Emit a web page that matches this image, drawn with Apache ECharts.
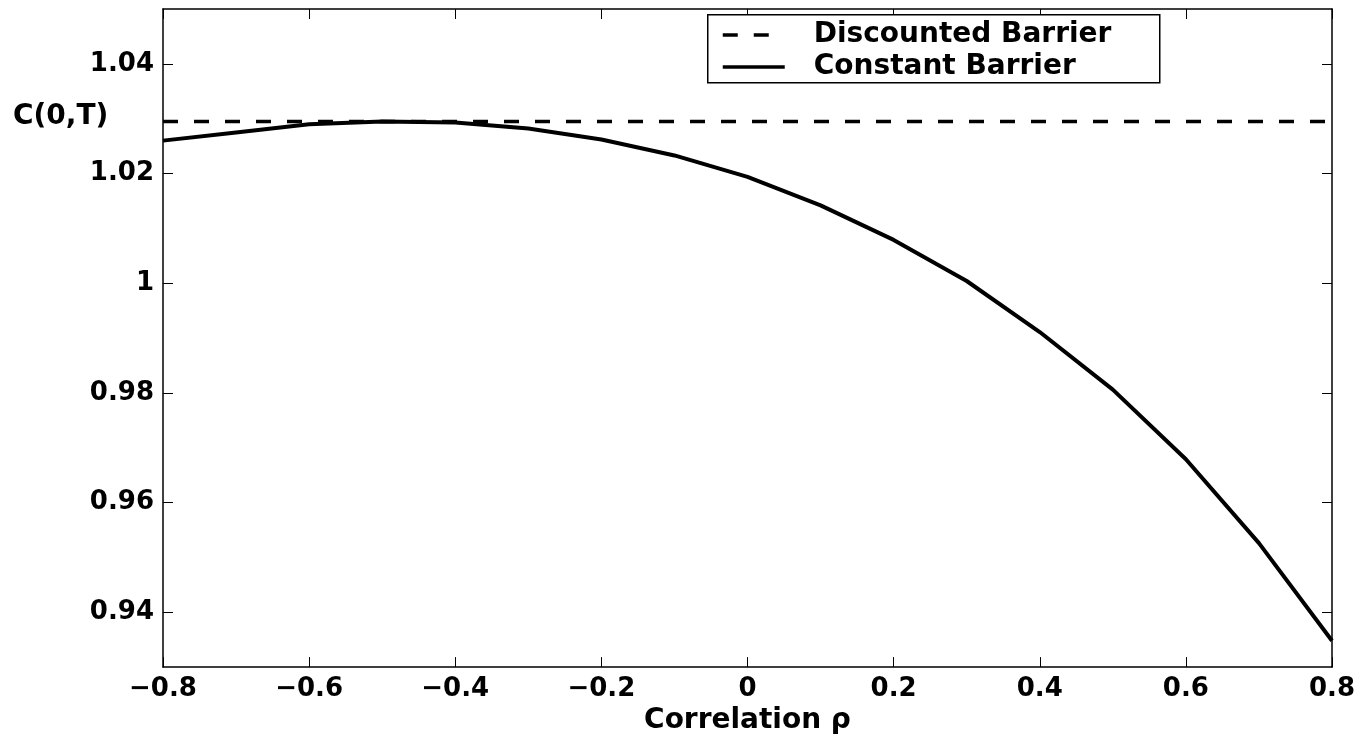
<!DOCTYPE html>
<html>
<head>
<meta charset="utf-8">
<script src="https://cdn.jsdelivr.net/npm/echarts@6/dist/echarts.min.js"></script>
<style>
  html, body { margin: 0; padding: 0; background: #fff; }
  #chart { width: 1363px; height: 740px; }
</style>
</head>
<body>
<div id="chart"></div>
<script>
// correlation grid and the two barrier prices
const rho = [-0.8, -0.7, -0.6, -0.5, -0.4, -0.3, -0.2, -0.1, 0, 0.1, 0.2, 0.3, 0.4, 0.5, 0.6, 0.7, 0.8];
const constantBarrier = [1.0260, 1.0275, 1.0290, 1.0295, 1.0293, 1.0282, 1.0262, 1.0233, 1.0194,
    1.0142, 1.0079, 1.0004, 0.9911, 0.9806, 0.9679, 0.9526, 0.9348];
const discountedBarrier = [1.0295, 1.0295, 1.0295, 1.0295, 1.0295, 1.0295, 1.0295, 1.0295, 1.0295,
    1.0295, 1.0295, 1.0295, 1.0295, 1.0295, 1.0295, 1.0295, 1.0295];
const yTicks = [0.94, 0.96, 0.98, 1, 1.02, 1.04];

const FONT = 'DejaVu Sans';
const chart = echarts.init(document.getElementById('chart'));

const pairs = ys => rho.map((x, i) => [x, ys[i]]);
const fmtX = v => (v < 0 ? '\u2212' + Math.abs(v) : String(v));

const tick = { show: true, inside: true, length: 10, lineStyle: { color: '#000', width: 1 } };
const axisLine = { show: true, onZero: false, lineStyle: { color: '#000', width: 1.5 } };

const options = {
    animation: false,
    backgroundColor: '#fff',
    grid: { left: 163, right: 31, top: 9, bottom: 67 },
    graphic: [
        {
            type: 'text', left: 13, top: 103,
            style: { text: 'C(0,T)', font: 'bold 28px "DejaVu Sans"', fill: '#000' }
        },
        {
            type: 'rect', left: 707, top: 14, z: 10,
            shape: { width: 452, height: 68 },
            style: { fill: '#fff', stroke: '#000', lineWidth: 1.5 }
        }
    ],
    legend: {
        z: 20,
        orient: 'vertical',
        left: 721,
        top: 21,
        padding: 0,
        itemWidth: 62,
        itemHeight: 14,
        itemGap: 4,
        itemStyle: { opacity: 0 },
        textStyle: { color: '#000', fontFamily: FONT, fontWeight: 'bold', fontSize: 28, padding: [0, 0, 0, 24] },
        data: [
            { name: 'Discounted Barrier', lineStyle: { width: 3.5 } },
            { name: 'Constant Barrier', lineStyle: { width: 3.5 } }
        ]
    },
    xAxis: [
        {
            type: 'value', min: -0.8, max: 0.8, interval: 0.2,
            axisLine, axisTick: tick, splitLine: { show: false },
            axisLabel: { margin: 9, color: '#000', fontFamily: FONT, fontWeight: 'bold', fontSize: 26, formatter: fmtX },
            name: 'Correlation \u03c1', nameLocation: 'middle', nameGap: 37,
            nameTextStyle: { color: '#000', fontFamily: FONT, fontWeight: 'bold', fontSize: 28 }
        },
        {
            type: 'value', position: 'top', min: -0.8, max: 0.8, interval: 0.2,
            axisLine, axisTick: tick, splitLine: { show: false }, axisLabel: { show: false }
        }
    ],
    yAxis: [
        {
            type: 'value', min: 0.93, max: 1.05,
            axisLine, splitLine: { show: false },
            axisTick: Object.assign({ customValues: yTicks }, tick),
            axisLabel: { customValues: yTicks, margin: 9, color: '#000', fontFamily: FONT, fontWeight: 'bold', fontSize: 26 }
        },
        {
            type: 'value', position: 'right', min: 0.93, max: 1.05,
            axisLine, splitLine: { show: false },
            axisTick: Object.assign({ customValues: yTicks }, tick),
            axisLabel: { show: false }
        }
    ],
    series: [
        {
            name: 'Discounted Barrier', type: 'line', symbol: 'none',
            data: pairs(discountedBarrier),
            lineStyle: { color: '#000', width: 3.5, type: [15, 16] },
            itemStyle: { color: '#000' }
        },
        {
            name: 'Constant Barrier', type: 'line', symbol: 'none',
            data: pairs(constantBarrier),
            lineStyle: { color: '#000', width: 4 },
            itemStyle: { color: '#000' }
        }
    ]
};

chart.setOption(options);
</script>
</body>
</html>
